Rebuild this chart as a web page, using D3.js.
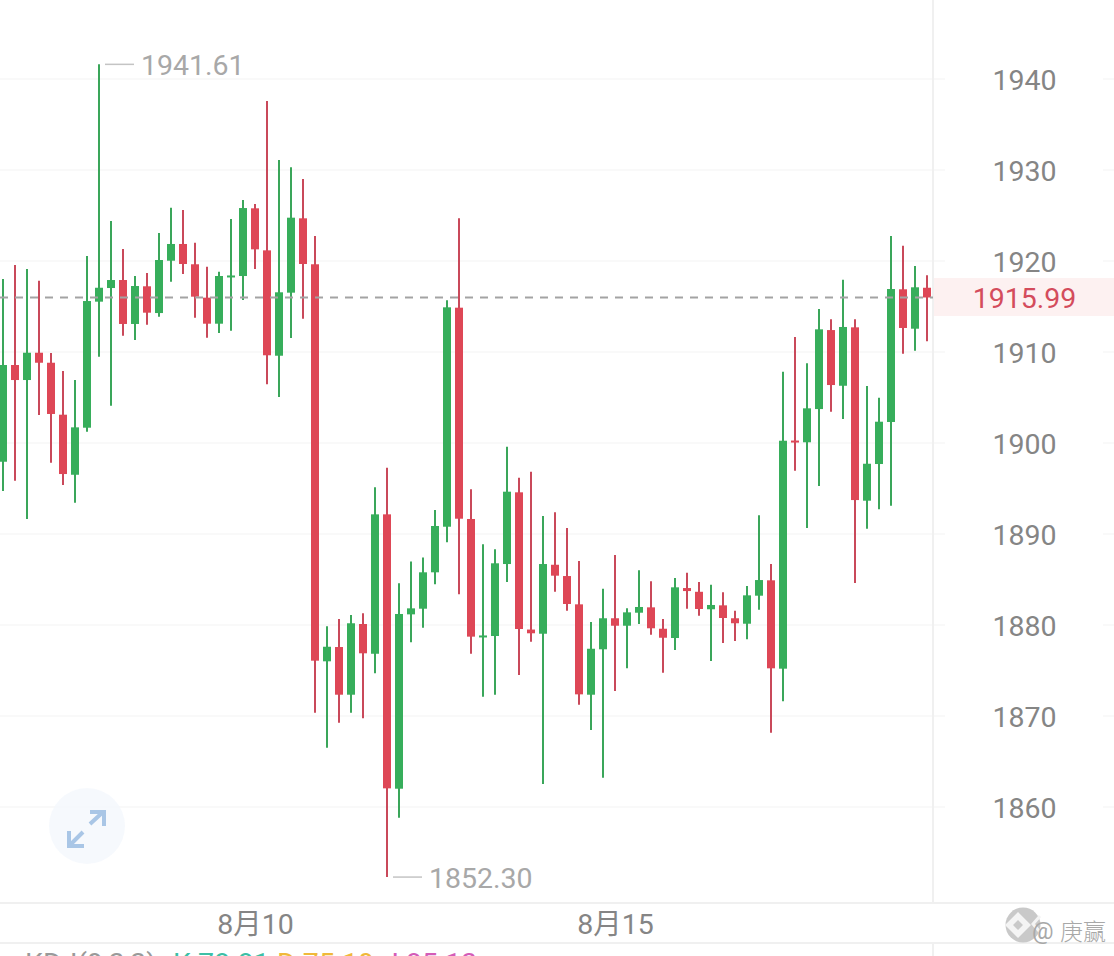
<!DOCTYPE html>
<html>
<head>
<meta charset="utf-8">
<script src="https://cdnjs.cloudflare.com/ajax/libs/d3/7.8.5/d3.min.js"></script>
<style>
html, body { margin: 0; padding: 0; background: #fff; overflow: hidden; }
text { font-family: Roboto, sans-serif; }
</style>
</head>
<body>
<div id="chart"></div>
<script>
// candle values, one entry per 4h bar
const opens = [1897.94,1908.57,1906.92,1909.92,1908.82,1903.11,1896.51,1901.68,1915.53,1917.03,1917.91,1913.08,1917.22,1914.28,1920.03,1921.87,1919.64,1915.97,1913.11,1918.33,1918.35,1925.79,1921.17,1909.59,1916.52,1924.69,1919.64,1876.01,1877.58,1872.34,1880.11,1876.84,1892.16,1862.01,1881.17,1881.79,1885.79,1890.80,1914.87,1891.65,1878.74,1878.79,1886.70,1894.58,1879.50,1879.04,1886.62,1885.38,1882.27,1872.34,1877.33,1880.74,1879.92,1881.35,1881.94,1879.59,1878.57,1884.06,1883.65,1881.73,1882.16,1880.74,1880.14,1883.22,1884.91,1875.20,1900.27,1900.08,1903.73,1912.41,1906.29,1912.71,1893.66,1897.69,1902.31,1916.89,1912.56,1917.06];
const closes = [1908.57,1906.92,1909.92,1908.82,1903.19,1896.59,1901.72,1915.60,1917.06,1917.91,1913.08,1917.25,1914.32,1920.11,1921.87,1919.67,1916.08,1913.11,1918.35,1918.41,1925.82,1921.28,1909.64,1916.56,1924.76,1919.67,1876.08,1877.61,1872.34,1880.19,1876.89,1892.16,1862.05,1881.21,1881.83,1885.79,1890.88,1914.91,1891.68,1878.72,1878.85,1886.78,1894.65,1879.56,1879.09,1886.70,1885.42,1882.31,1872.38,1877.39,1880.74,1879.92,1881.39,1881.98,1879.64,1878.60,1884.14,1883.73,1881.76,1882.20,1880.77,1880.19,1883.26,1884.94,1875.24,1900.25,1900.16,1903.81,1912.49,1906.37,1912.75,1893.73,1897.72,1902.34,1916.92,1912.64,1917.11,1915.99];
const highs = [1918.02,1919.56,1919.12,1917.83,1909.89,1907.91,1906.92,1920.55,1941.61,1924.40,1921.32,1918.35,1918.68,1923.08,1925.86,1925.60,1922.01,1919.37,1918.82,1924.61,1926.70,1926.26,1937.58,1931.10,1930.30,1929.01,1922.75,1879.86,1880.66,1881.10,1881.29,1895.13,1897.28,1884.58,1886.99,1887.43,1892.64,1915.68,1924.69,1894.91,1888.87,1888.32,1899.59,1896.18,1896.84,1891.97,1892.38,1890.66,1887.03,1880.33,1883.99,1887.69,1881.83,1886.01,1884.80,1880.66,1885.16,1885.75,1884.72,1884.43,1883.59,1881.57,1884.28,1892.05,1886.70,1907.83,1911.65,1908.76,1914.72,1913.59,1917.94,1913.59,1906.26,1904.98,1922.75,1921.68,1919.45,1918.43];
const lows = [1894.72,1895.86,1891.65,1903.08,1897.83,1895.38,1893.44,1901.24,1909.48,1904.10,1911.79,1911.32,1913.00,1913.88,1917.72,1918.57,1913.77,1911.57,1912.09,1912.34,1915.71,1919.12,1906.45,1905.05,1911.54,1913.66,1870.36,1866.51,1869.26,1870.36,1869.75,1874.69,1852.30,1858.82,1878.10,1879.70,1884.47,1889.09,1883.37,1876.84,1872.12,1872.34,1884.72,1874.51,1878.16,1862.53,1883.66,1881.57,1871.24,1868.46,1863.22,1872.75,1875.24,1880.11,1878.93,1874.75,1877.25,1881.79,1881.02,1876.04,1878.02,1878.24,1878.43,1881.68,1868.17,1871.61,1896.95,1890.66,1895.27,1903.44,1902.64,1884.61,1890.58,1892.71,1893.11,1909.81,1910.14,1911.17];

const yTicks = [1940, 1930, 1920, 1910, 1900, 1890, 1880, 1870, 1860];
const dateTickBars = [21, 51];
const dateTickLabels = ["8月10", "8月15"];
const lastPrice = 1915.99;
const highMark = { bar: 8, value: 1941.61 };
const lowMark = { bar: 32, value: 1852.30 };
const kdjParams = "KDJ(9,3,3)";
const kdjLabels = ["K 78.81", "D 75.19", "J 85.13"];

const W = 1114, H = 956;
const UP = "#37ae5b", DOWN = "#de4756", WICK_UP = "#3aa65a", WICK_DOWN = "#c9495a";
const plotRight = 933, axisBottom = 903;

const svg = d3.select("#chart").append("svg").attr("width", W).attr("height", H).style("display", "block");

const x = d3.scalePoint().domain(d3.range(opens.length)).range([3, 927]);
const y = d3.scaleLinear().domain([1860, 1940]).range([807, 79]);

// price band sits under the grid
svg.append("rect").attr("x", plotRight).attr("y", 278).attr("width", W - plotRight).attr("height", 38).attr("fill", "#fdf1f1");

// grid, broken where the axis labels go
const grid = svg.append("g").attr("stroke", "#f7f7f7").attr("stroke-width", 1.5);
yTicks.forEach(t => {
     grid.append("line").attr("x1", 0).attr("x2", 945).attr("y1", y(t)).attr("y2", y(t));
     grid.append("line").attr("x1", 1103).attr("x2", W).attr("y1", y(t)).attr("y2", y(t));
});

const frame = svg.append("g").attr("stroke", "#f0f0f0").attr("stroke-width", 2);
frame.append("line").attr("x1", plotRight).attr("x2", plotRight).attr("y1", 0).attr("y2", axisBottom);
frame.append("line").attr("x1", plotRight).attr("x2", plotRight).attr("y1", 943).attr("y2", H);
frame.append("line").attr("x1", 0).attr("x2", W).attr("y1", axisBottom).attr("y2", axisBottom);
frame.append("line").attr("x1", 0).attr("x2", W).attr("y1", 943).attr("y2", 943);

// candles
const bars = svg.append("g").selectAll("g").data(opens).enter().append("g");
bars.append("line")
     .attr("x1", (d, i) => x(i)).attr("x2", (d, i) => x(i))
     .attr("y1", (d, i) => y(highs[i])).attr("y2", (d, i) => y(lows[i]))
     .attr("stroke", (d, i) => closes[i] >= opens[i] ? WICK_UP : WICK_DOWN)
     .attr("stroke-width", 2);
bars.append("rect")
     .attr("x", (d, i) => x(i) - 4)
     .attr("width", 8)
     .attr("y", (d, i) => y(Math.max(opens[i], closes[i])))
     .attr("height", (d, i) => Math.max(2, Math.abs(y(opens[i]) - y(closes[i]))))
     .attr("fill", (d, i) => closes[i] >= opens[i] ? UP : DOWN);

// last price line
svg.append("line")
     .attr("x1", 0).attr("x2", plotRight)
     .attr("y1", y(lastPrice)).attr("y2", y(lastPrice))
     .attr("stroke", "#a3a3a3").attr("stroke-width", 2)
     .attr("stroke-dasharray", "8,7");

// y axis
const yAxis = svg.append("g").call(d3.axisRight(y).tickValues(yTicks).tickSize(0).tickFormat(d3.format("d")));
yAxis.select(".domain").remove();
yAxis.selectAll("text")
     .attr("x", 1024.5).attr("text-anchor", "middle").attr("dy", "0.36em")
     .attr("fill", "#858585").style("font-size", "28.5px").style("font-family", "Roboto, sans-serif");

svg.append("text").attr("x", 1024.5).attr("y", y(lastPrice) + 11)
     .attr("text-anchor", "middle").attr("fill", "#d44c5c").style("font-size", "28.5px")
     .text(lastPrice.toFixed(2));

// x axis
const xAxis = svg.append("g").attr("transform", "translate(0," + axisBottom + ")")
     .call(d3.axisBottom(x).tickValues(dateTickBars).tickSize(0).tickFormat((d, i) => dateTickLabels[i]));
xAxis.select(".domain").remove();
xAxis.selectAll("text")
     .attr("y", 0).attr("dy", 31)
     .attr("fill", "#858585").style("font-size", "28.5px")
     .style("font-family", "Roboto, 'Noto Sans CJK SC', sans-serif");

// high and low markers
function marker(m) {
     let my = y(m.value), mx = x(m.bar);
     svg.append("line").attr("x1", mx + 6).attr("x2", mx + 35).attr("y1", my).attr("y2", my)
          .attr("stroke", "#c4c4c4").attr("stroke-width", 1.5);
     svg.append("text").attr("x", mx + 42).attr("y", my + 10.5)
          .attr("fill", "#a8a8a8").style("font-size", "28.5px").text(m.value.toFixed(2));
}
marker(highMark);
marker(lowMark);

// expand button
svg.append("circle").attr("cx", 87).attr("cy", 826).attr("r", 38).attr("fill", "#f4f8fd").attr("opacity", 0.85);
svg.append("path")
     .attr("d", "M90,824L103,812M90,812H104V826M83,832L70,845M69,831V846H84")
     .attr("fill", "none").attr("stroke", "#a9c6e6").attr("stroke-width", 4);

// KDJ legend, cut off by the bottom of the picture as in the source
const kdjY = 973;
svg.append("text").attr("x", 25).attr("y", kdjY).attr("fill", "#9a9a9a").style("font-size", "28.5px").text(kdjParams);
svg.append("text").attr("x", 173).attr("y", kdjY).attr("fill", "#3dbfa6").style("font-size", "28.5px").text(kdjLabels[0]);
svg.append("text").attr("x", 277).attr("y", kdjY).attr("fill", "#f0b93a").style("font-size", "28.5px").text(kdjLabels[1]);
svg.append("text").attr("x", 383).attr("y", kdjY).attr("fill", "#d45cb8").style("font-size", "28.5px").text(kdjLabels[2]);

// watermark
const mark = svg.append("g");
mark.append("circle").attr("cx", 1023).attr("cy", 925).attr("r", 17.5).attr("fill", "#c9c9c9");
mark.append("path")
     .attr("d", "M1018,912L1031,925L1018,938L1005,925ZM1018,920L1013,925L1018,930L1023,925Z")
     .attr("fill", "#f4f4f4").attr("fill-rule", "evenodd");
mark.append("path").attr("d", "M1040,916L1033,924L1040,932").attr("fill", "none").attr("stroke", "#f4f4f4").attr("stroke-width", 3);
mark.append("text").attr("x", 1032).attr("y", 939).attr("fill", "#a8a8a8")
     .style("font-size", "24px").text("@");
mark.append("text").attr("x", 1060).attr("y", 940).attr("fill", "#a8a8a8")
     .style("font-size", "23px").style("font-family", "'Noto Sans CJK SC', sans-serif").style("font-weight", "300").text("庚赢");
</script>
</body>
</html>
